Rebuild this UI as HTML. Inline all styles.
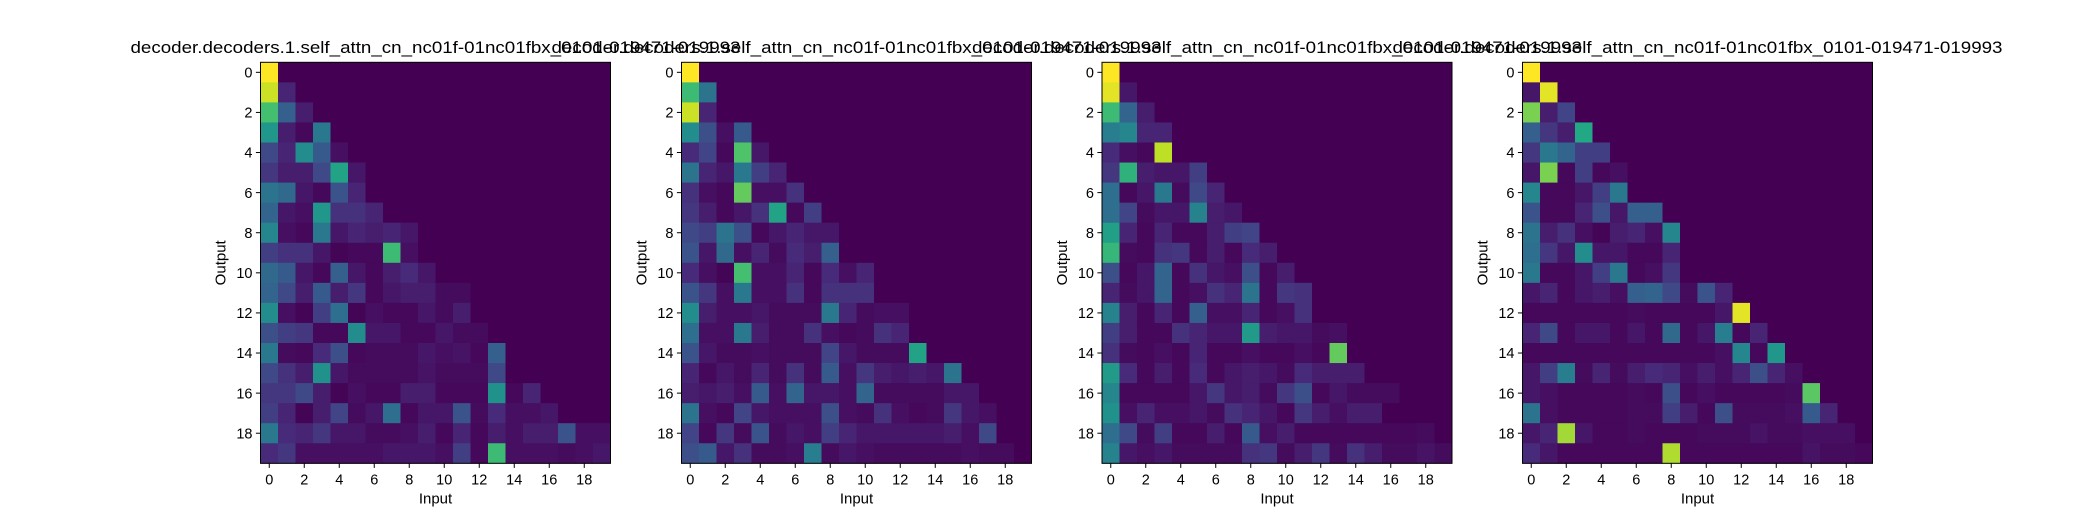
<!DOCTYPE html>
<html><head><meta charset="utf-8">
<style>
html,body{margin:0;padding:0;background:#fff;}
svg{display:block;font-family:"Liberation Sans","DejaVu Sans",sans-serif;}
</style></head>
<body>
<svg id="fig" width="2080" height="520" viewBox="0 0 2080 520"></svg>
<script>
const titles = [
"decoder.decoders.1.self_attn_cn_nc01f-01nc01fbx_0101-019471-019993",
"decoder.decoders.1.self_attn_cn_nc01f-01nc01fbx_0101-019471-019993",
"decoder.decoders.1.self_attn_cn_nc01f-01nc01fbx_0101-019471-019993",
"decoder.decoders.1.self_attn_cn_nc01f-01nc01fbx_0101-019471-019993"];
const tickLabels = [0,2,4,6,8,10,12,14,16,18];
const xLabel = "Input";
const yLabel = "Output";
const panel1 = [
[100],[92,10],[70,30,8],[52,8,2,40],[22,10,48,28,4],[16,8,8,22,58,6],[38,34,6,2,26,10],
[32,6,4,52,14,14,10],[46,4,2,40,6,10,8,10,6],[18,14,14,6,1,2,2,68,4],
[34,28,6,2,30,6,2,8,12,6],[32,22,8,28,8,16,2,6,8,8,3,3],[48,4,1,18,36,1,4,2,2,6,3,8],
[24,18,16,2,2,48,6,6,2,2,6,3,3],[40,3,2,12,24,2,3,3,3,6,4,5,2,30],
[22,14,8,50,6,3,3,3,3,5,3,3,3,22],[16,16,22,8,1,4,2,2,8,8,2,2,2,50,2,10],
[18,10,1,8,20,3,6,36,2,6,6,26,3,12,4,4,6],[40,12,10,16,6,6,3,3,4,8,2,10,2,8,4,8,8,26,4,4],
[12,16,4,4,4,4,4,6,6,6,4,18,2,68,4,4,4,3,4,6]];
const panel2 = [
[100],[68,38],[92,10],[48,24,4,28],[12,20,2,72,6],[38,10,6,40,18,10],[14,4,2,76,4,4,14],
[16,8,2,6,14,58,2,18],[22,18,38,24,2,6,10,6,6],[26,6,34,4,10,3,12,8,30],
[12,4,1,70,4,4,10,2,12,4,10],[26,16,4,40,4,4,14,2,14,14,14],[48,8,4,4,6,3,3,3,40,10,3,4,4],
[36,4,4,40,8,3,3,14,4,2,3,14,10],[26,6,3,3,4,3,3,3,20,6,3,3,3,58],
[10,2,6,3,10,3,14,3,28,4,16,8,6,8,6,38],[8,6,8,4,28,4,32,6,6,4,32,3,3,3,3,6,6],
[38,4,2,20,6,4,4,4,24,4,3,14,4,2,3,16,6,4],[20,2,16,3,26,3,6,4,18,10,6,6,6,6,6,8,4,22],
[24,28,6,14,3,3,4,42,3,6,4,3,3,3,3,3,4,3,3]];
const panel3 = [
[100],[96,6],[68,32,8],[42,46,10,10],[12,4,2,90],[16,64,8,6,6,18],[36,2,6,40,3,22,10],
[36,20,3,6,6,44,8,6],[56,10,2,10,2,2,8,18,20],[66,3,2,14,16,2,8,2,12,8],
[24,2,6,32,2,14,6,4,24,2,8],[10,3,6,32,2,4,14,10,38,2,16,14],[44,8,2,10,2,30,4,4,10,2,4,14],
[18,8,2,2,14,10,6,6,54,8,6,6,3,4],[14,3,2,4,2,10,2,2,4,2,2,4,2,76],
[54,12,2,8,2,12,2,6,8,6,3,12,8,8,8],[46,2,2,2,2,6,16,6,8,3,16,24,2,6,3,3,3],
[50,4,10,4,4,6,3,14,10,6,2,16,8,4,8,8],[36,22,3,18,2,2,8,2,28,4,8,2,2,2,2,2,2,2,3],
[44,6,4,6,3,3,3,3,14,16,3,8,16,3,14,8,3,3,5,3]];
const panel4 = [
[100],[6,96],[80,8,20],[30,16,8,60],[16,40,32,18,18],[6,80,2,18,2,4],[46,2,2,6,18,40],
[26,2,2,10,24,6,30,30],[38,8,14,4,1,8,10,4,46],[36,16,6,48,6,6,2,2,10],
[40,2,2,6,18,40,2,4,16],[6,10,2,6,8,4,30,32,22,3,26,10],[2,2,2,2,2,2,3,2,2,2,2,6,96],
[10,22,2,6,6,2,6,2,34,2,6,42,2,10],[2,2,2,2,2,2,2,2,2,2,2,4,46,2,52],
[6,18,42,3,10,3,8,12,10,4,8,4,10,24,10,4],[6,4,2,2,2,2,3,2,24,2,4,2,2,2,2,3,74],
[38,4,2,2,2,2,3,3,18,8,2,24,3,3,3,4,28,10],[6,10,86,6,2,2,3,2,2,2,3,3,3,5,3,3,4,4,4],
[12,6,2,2,2,2,2,2,88,2,2,2,2,2,2,2,5,3,3,2]];
const panels = [panel1, panel2, panel3, panel4];

const NS = "http://www.w3.org/2000/svg";
const svg = document.getElementById('fig');
const VIR = ["#440154","#482475","#414487","#355f8d","#2a788e","#21918c","#22a884","#44bf70","#7ad151","#bddf26","#fde725"];
function hex(h){return [1,3,5].map(i=>parseInt(h.substr(i,2),16));}
function viridis(v){
  v=Math.max(0,Math.min(1,v));
  const p=v*10, i=Math.min(9,Math.floor(p)), f=p-i;
  const a=hex(VIR[i]), b=hex(VIR[i+1]);
  return "rgb("+a.map((c,k)=>Math.round(c+(b[k]-c)*f)).join(",")+")";
}
function mk(tag, attrs, parent){
  const e=document.createElementNS(NS,tag);
  for(const k in attrs) e.setAttribute(k, attrs[k]);
  (parent||svg).appendChild(e); return e;
}
const N=20, W=350, H=401, TOP=62.3;
const lefts=[260.5,681.5,1102,1522.5];
panels.forEach((mat,p)=>{
  const L=lefts[p];
  const g=mk('g',{});
  
  
  const xs=j=>L+j*W/N, ys=i=>TOP+i*H/N;
  for(let i=0;i<N;i++){
    for(let j=0;j<N;j++){
      const v=(mat[i] && mat[i][j]!==undefined)?mat[i][j]/100:0;
      const r=mk('rect',{x:xs(j),y:ys(i),width:W/N+0.4,height:H/N+0.4,fill:viridis(v)},g);
      
      
    }
  }
  const fr=mk('rect',{x:L,y:TOP,width:W,height:H,fill:'none',stroke:'#000','stroke-width':1},g);
  
  
  tickLabels.forEach(t=>{
    const cx=xs(t)+W/N/2, cy=ys(t)+H/N/2;
    mk('line',{x1:cx,x2:cx,y1:TOP+H,y2:TOP+H+4.6,stroke:'#000','stroke-width':1},g);
    const tx=mk('text',{x:cx,y:484.5,'font-size':14.5,'text-anchor':'middle',fill:'#000'},g);
    tx.textContent=t;
    
    
    mk('line',{x1:L-4.6,x2:L,y1:cy,y2:cy,stroke:'#000','stroke-width':1},g);
    const ty=mk('text',{x:L-8,y:cy+5.2,'font-size':14.5,'text-anchor':'end',fill:'#000'},g);
    ty.textContent=t;
    
    
  });
  const xl=mk('text',{x:L+W/2,y:503.5,'font-size':15,'text-anchor':'middle',fill:'#000'},g);
  xl.textContent=xLabel;
  
  
  const yl=mk('text',{x:0,y:0,'font-size':15,'text-anchor':'middle',fill:'#000',transform:'translate('+(L-35)+','+(TOP+H/2)+') rotate(-90)'},g);
  yl.textContent=yLabel;
  
  
  const ti=mk('text',{x:L+W/2,y:53,'font-size':16.3,'text-anchor':'middle',fill:'#000',textLength:610,lengthAdjust:'spacingAndGlyphs'},g);
  ti.textContent=titles[p];
  
  
});
</script>
</body></html>
